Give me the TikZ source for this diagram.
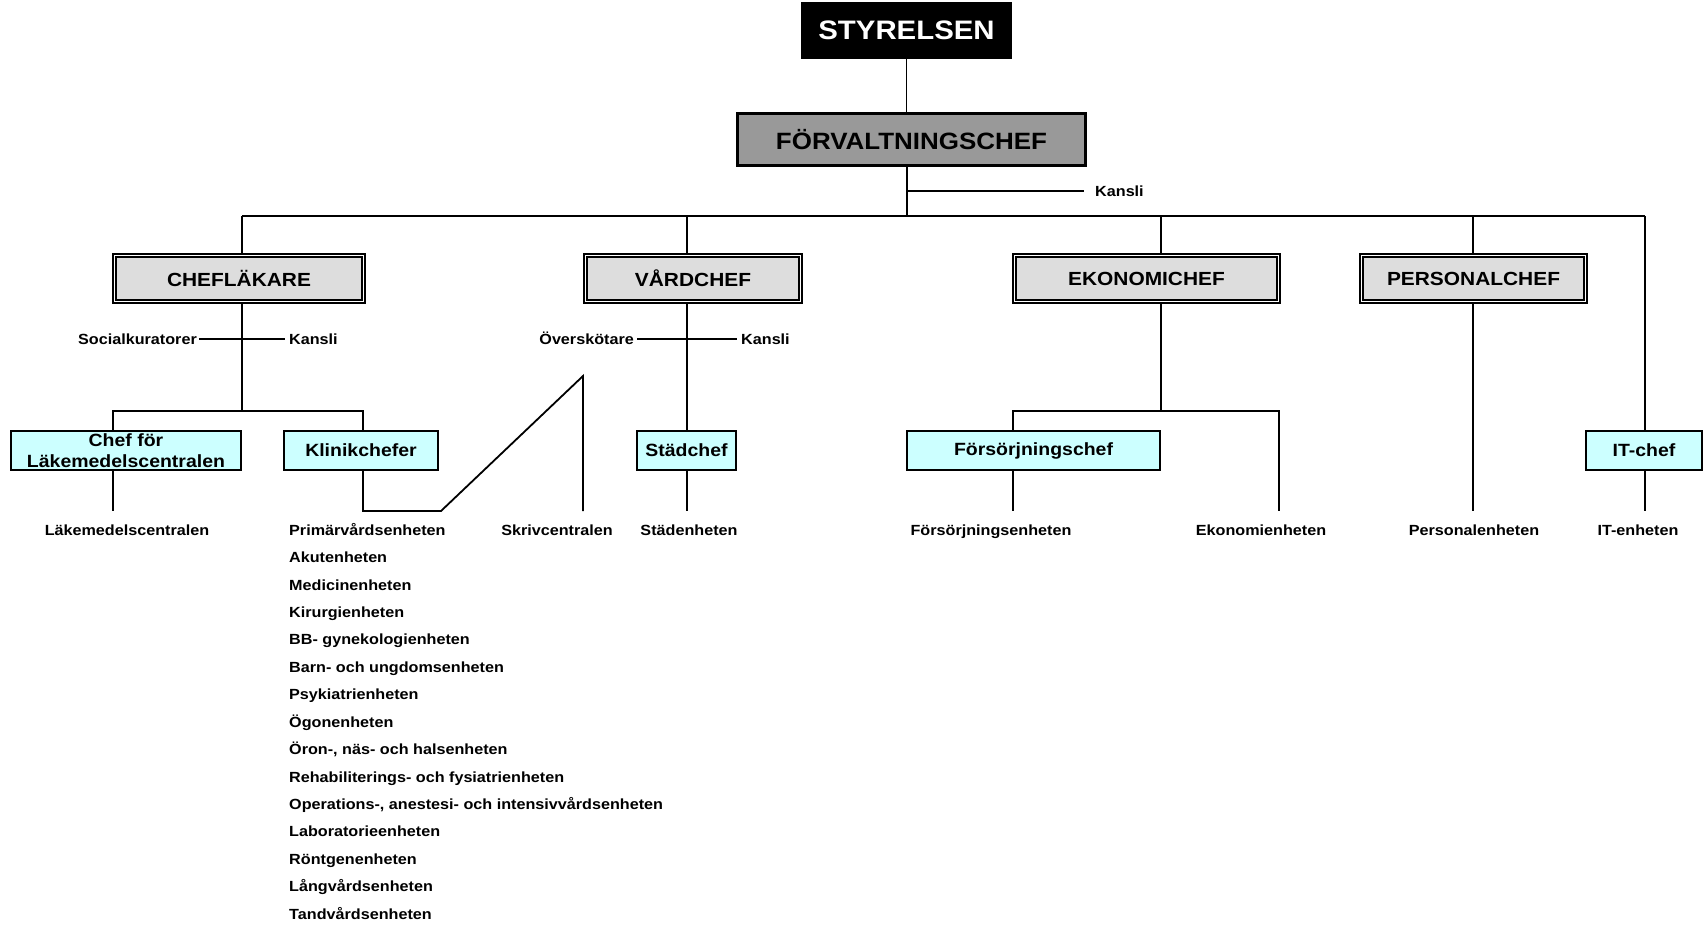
\documentclass[tikz,border=0pt]{standalone}
\usepackage{fontspec}
\setmainfont{Liberation Sans}[FakeStretch=1.1]
\definecolor{fgray}{HTML}{999999}
\definecolor{lgray}{HTML}{DDDDDD}
\definecolor{lcyan}{HTML}{CCFFFF}
\begin{document}
\begin{tikzpicture}[x=1pt,y=-1pt,
  conn/.style={line width=1.8pt},
  lbl/.style={font=\fontsize{14.7}{16}\selectfont\bfseries, inner sep=0pt, text height=10.5pt, text depth=0pt},
  topbox/.style={fill=black, text=white, inner sep=0pt, font=\fontsize{26.7}{30}\selectfont\bfseries},
  chiefbox/.style={draw=black, line width=3pt, fill=fgray, inner sep=0pt, font=\fontsize{23.6}{26}\selectfont\bfseries},
  dirbox/.style={draw=black, line width=1.7pt, double=white, double distance=1.5pt, fill=lgray, inner sep=0pt, minimum height=46pt, font=\fontsize{19}{21}\selectfont\bfseries},
  unitbox/.style={draw=black, line width=2pt, fill=lcyan, inner sep=0pt, minimum height=39pt, align=center, font=\fontsize{17.7}{20.5}\selectfont\bfseries}
]
\useasboundingbox (0,0) rectangle (1708,930);
\fill[white] (0,0) rectangle (1708,930);

% top
\node[topbox, minimum width=211pt, minimum height=57pt] (styr) at (906.5,30.5) {STYRELSEN};
\node[chiefbox, minimum width=348pt, minimum height=52pt] (forv) at (911.5,139.5) {FÖRVALTNINGSCHEF};

% level 2
\node[dirbox, minimum width=249pt] (cl) at (239,278.5) {CHEFLÄKARE};
\node[dirbox, minimum width=215pt] (vc) at (693,278.5) {VÅRDCHEF};
\node[dirbox, minimum width=264pt] (ec) at (1146.5,278.5) {EKONOMICHEF};
\node[dirbox, minimum width=224pt] (pc) at (1473.5,278.5) {PERSONALCHEF};

% level 3
\node[unitbox, minimum width=230pt] (lm) at (126,450.5) {Chef för\\Läkemedelscentralen};
\node[unitbox, minimum width=154pt] (kc) at (361,450.5) {Klinikchefer};
\node[unitbox, minimum width=99pt] (sc) at (686.5,450.5) {Städchef};
\node[unitbox, minimum width=253pt] (fc) at (1033.5,450.5) {Försörjningschef};
\node[unitbox, minimum width=116pt] (it) at (1644,450.5) {IT-chef};

% coordinates
\coordinate (busC) at (907,216);
\coordinate (busL) at (242,216);
\coordinate (busR) at (1645,216);
\coordinate (xV) at (687,216);
\coordinate (xE) at (1161,216);
\coordinate (xP) at (1473,216);
\coordinate (kl0) at (1084,191);

% top connectors
\draw[conn] (styr.south) -- (styr.south |- forv.north);
\draw[conn] (busC |- forv.south) -- (busC);
\draw[conn] (busC |- kl0) -- (kl0);
\node[lbl, anchor=west] (kansli0) at (1095,191) {Kansli};
\draw[conn] (busL) -- (busR);
\draw[conn] (busL) -- (busL |- cl.north);
\draw[conn] (xV) -- (xV |- vc.north);
\draw[conn] (xE) -- (xE |- ec.north);
\draw[conn] (xP) -- (xP |- pc.north);
\draw[conn] (busR) -- (busR |- it.north);

% CHEFLÄKARE branch
\node[lbl, anchor=east] (soc) at (197,339) {Socialkuratorer};
\node[lbl, anchor=west] (kan1) at (289,339) {Kansli};
\draw[conn] ([xshift=2pt]soc.east) -- ([xshift=-4pt]kan1.west);
\coordinate (cb) at (242,411);
\coordinate (cbl) at (113,411);
\coordinate (cbr) at (363,411);
\draw[conn] (busL |- cl.south) -- (cb);
\draw[conn] (cbl |- lm.north) -- (cbl) -- (cbr) -- (cbr |- kc.north);
\coordinate (e1) at (113,511);
\draw[conn] (cbl |- lm.south) -- (e1);
\coordinate (k1) at (363,511);
\coordinate (k2) at (441,511);
\coordinate (k3) at (583,376);
\coordinate (k4) at (583,511);
\draw[conn] (cbr |- kc.south) -- (k1) -- (k2) -- (k3) -- (k4);

% VÅRDCHEF branch
\node[lbl, anchor=east] (ov) at (634,339) {Överskötare};
\node[lbl, anchor=west] (kan2) at (741,339) {Kansli};
\draw[conn] ([xshift=3pt]ov.east) -- ([xshift=-4pt]kan2.west);
\draw[conn] (xV |- vc.south) -- (xV |- sc.north);
\coordinate (e3) at (687,511);
\draw[conn] (xV |- sc.south) -- (e3);

% EKONOMICHEF branch
\coordinate (eb) at (1161,411);
\coordinate (ebl) at (1013,411);
\coordinate (ebr) at (1279,411);
\coordinate (e4) at (1013,511);
\coordinate (e5) at (1279,511);
\draw[conn] (xE |- ec.south) -- (eb);
\draw[conn] (ebl |- fc.north) -- (ebl) -- (ebr) -- (e5);
\draw[conn] (ebl |- fc.south) -- (e4);

% PERSONALCHEF
\coordinate (e6) at (1473,511);
\draw[conn] (xP |- pc.south) -- (e6);

% IT
\coordinate (e7) at (1645,511);
\draw[conn] (busR |- it.south) -- (e7);

% bottom labels
\node[lbl] (u1) at (127,530) {Läkemedelscentralen};
\node[lbl] (u3) at (557,530) {Skrivcentralen};
\node[lbl] (u4) at (689,530) {Städenheten};
\node[lbl] (u5) at (991,530) {Försörjningsenheten};
\node[lbl] (u6) at (1261,530) {Ekonomienheten};
\node[lbl] (u7) at (1474,530) {Personalenheten};
\node[lbl] (u8) at (1638,530) {IT-enheten};

% clinic list
\foreach \t [count=\i from 0] in {Primärvårdsenheten, Akutenheten, Medicinenheten, Kirurgienheten, BB- gynekologienheten, Barn- och ungdomsenheten, Psykiatrienheten, Ögonenheten, {Öron-, näs- och halsenheten}, Rehabiliterings- och fysiatrienheten, {Operations-, anestesi- och intensivvårdsenheten}, Laboratorieenheten, Röntgenenheten, Långvårdsenheten, Tandvårdsenheten}
  \node[lbl, anchor=west] (li\i) at (289,530+27.43*\i) {\t};
\end{tikzpicture}
\end{document}
